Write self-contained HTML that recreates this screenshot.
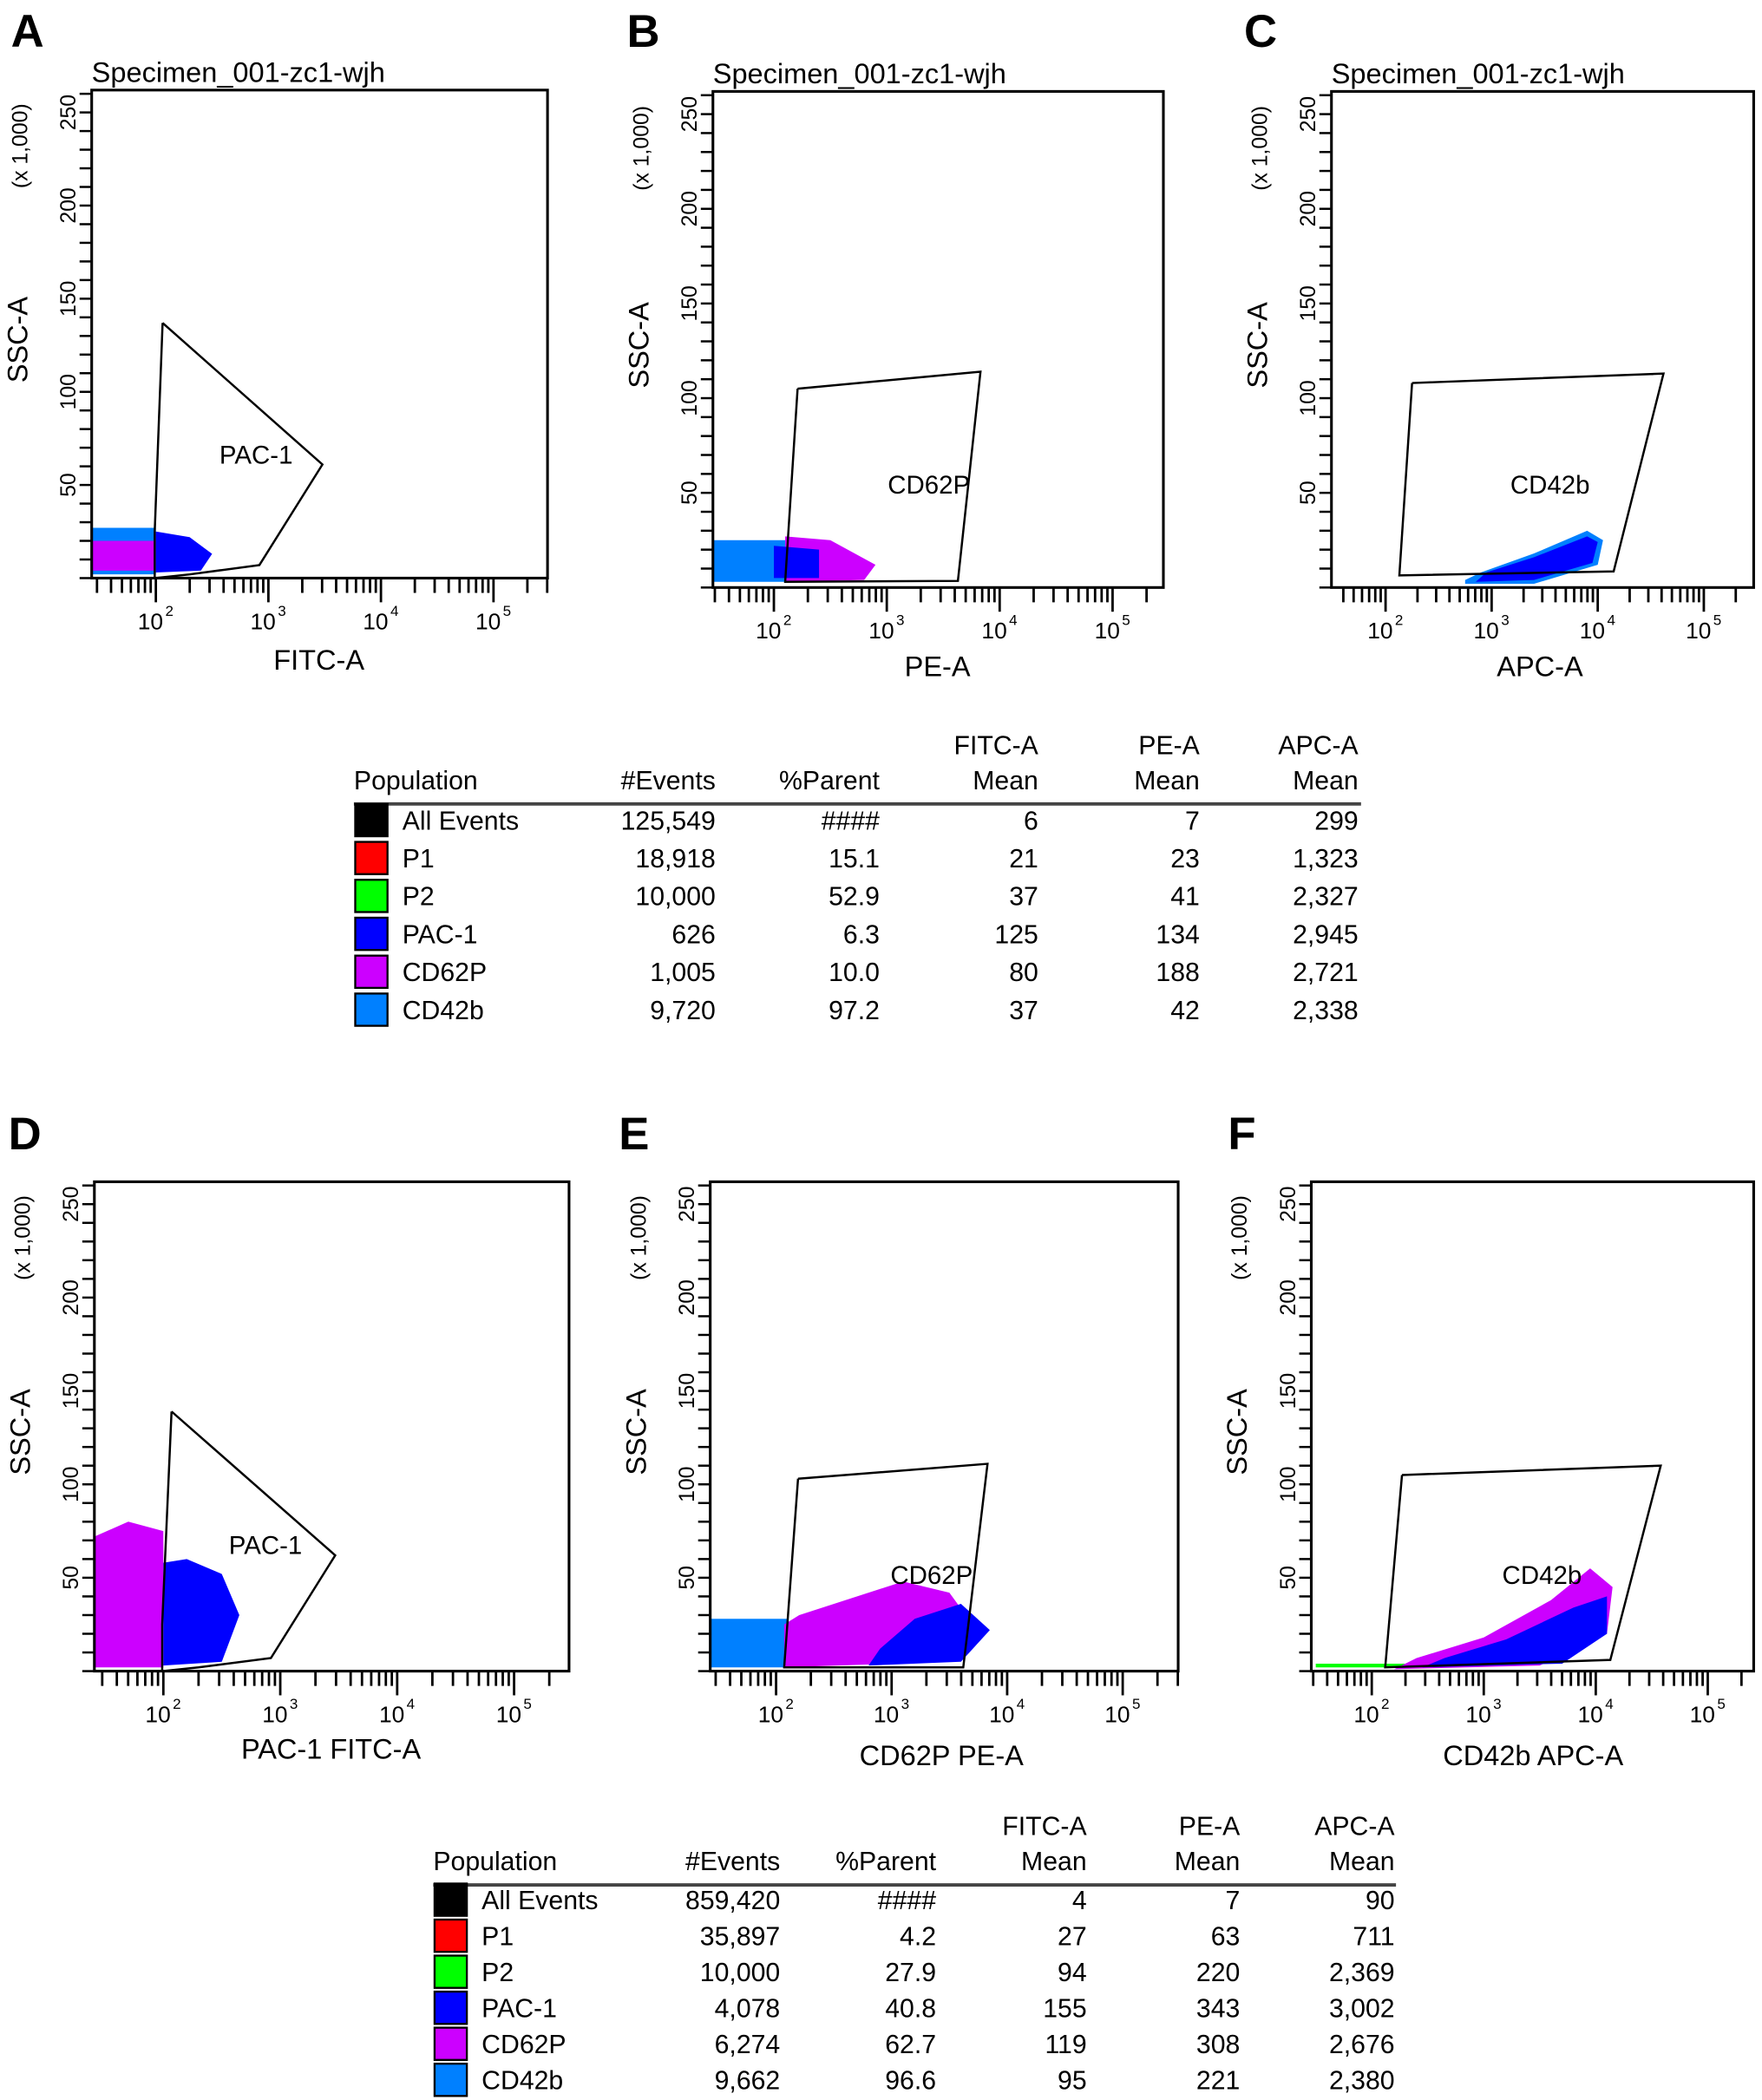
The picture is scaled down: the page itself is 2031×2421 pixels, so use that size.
<!DOCTYPE html>
<html><head><meta charset="utf-8"><style>
html,body{margin:0;padding:0;background:#fff;}
svg{display:block;}
text{font-family:"Liberation Sans",sans-serif;fill:#000;}
.tbl{font-family:"Liberation Sans Narrow","Liberation Sans",sans-serif;font-size:19.5px;}
</style></head><body>
<svg id="fig" width="2031" height="2421" viewBox="0 0 1310 1562" xmlns="http://www.w3.org/2000/svg"></svg>
<script>
// ---- data ----
const panelLetters = ["A","B","C","D","E","F"];
const panelTitles = ["Specimen_001-zc1-wjh","Specimen_001-zc1-wjh","Specimen_001-zc1-wjh","","",""];
const xAxisTitles = ["FITC-A","PE-A","APC-A","PAC-1 FITC-A","CD62P PE-A","CD42b APC-A"];
const gateNames = ["PAC-1","CD62P","CD42b","PAC-1","CD62P","CD42b"];
const xDecadeLabels = [2,3,4,5];
const yTickLabels = [50,100,150,200,250];
// gates in data coords [log10 intensity, SSC x1000]
const gateA = [[2.06,137],[3.48,61],[2.92,7],[2.3,2],[1.99,0],[1.99,25],[2.06,137]];
const gateB = [[2.21,105],[3.83,114],[3.63,3.5],[2.1,3],[2.21,105]];
const gateC = [[2.25,108],[4.62,113],[4.15,8.5],[2.13,6.4],[2.25,108]];
const gateD = [[2.07,139],[3.47,62],[2.92,7],[2.3,2],[1.99,0],[1.99,25],[2.07,139]];
const gateE = [[2.19,103],[3.83,111],[3.62,2],[2.07,2],[2.19,103]];
const gateF = [[2.27,105],[4.58,110],[4.13,6],[2.12,2],[2.27,105]];
// population clouds (outline in data coords)
const cloudsA = [["#0080ff",[[1.43,2],[2.0,2],[2.0,27],[1.43,27]]],["#cc00ff",[[1.43,4],[2.0,4],[2.0,20],[1.43,20]]],["#0000ff",[[2.0,3],[2.4,4],[2.5,13],[2.3,22],[2.0,25]]]];
const cloudsB = [["#0080ff",[[1.46,3],[2.1,3],[2.1,25],[1.46,25]]],["#cc00ff",[[2.1,3],[2.8,4],[2.9,12],[2.5,25],[2.1,27]]],["#0000ff",[[2.0,5],[2.4,5],[2.4,20],[2.0,22]]]];
const cloudsC = [["#0080ff",[[2.75,2],[3.4,2],[4.0,12],[4.05,25],[3.9,30],[3.4,18],[2.9,8],[2.75,4]]],["#0000ff",[[2.85,3],[3.4,4],[3.95,13],[4.0,24],[3.9,27],[3.4,16],[2.95,8]]]];
const cloudsD = [["#cc00ff",[[1.41,2],[2.0,2],[2.0,75],[1.7,80],[1.41,72]]],["#0000ff",[[2.0,3],[2.5,5],[2.65,30],[2.5,52],[2.2,60],[2.0,58]]]];
const cloudsE = [["#0080ff",[[1.43,2],[2.1,2],[2.1,28],[1.43,28]]],["#cc00ff",[[2.07,2],[3.5,5],[3.7,25],[3.5,42],[3.1,48],[2.6,38],[2.2,30],[2.07,25]]],["#0000ff",[[2.8,3],[3.6,5],[3.85,22],[3.6,36],[3.2,28],[2.9,12]]]];
const cloudsF = [["#00ff00",[[1.5,2],[2.3,2],[2.3,4],[1.5,4]]],["#cc00ff",[[2.2,1],[3.5,3],[4.1,20],[4.15,45],[3.95,55],[3.6,38],[3.0,18],[2.4,7]]],["#0000ff",[[2.45,2],[3.7,4],[4.1,20],[4.1,40],[3.8,34],[3.2,17],[2.65,7]]]];
// table data
const tblColumns = ["#Events","%Parent","FITC-A Mean","PE-A Mean","APC-A Mean"];
const populations = ["All Events","P1","P2","PAC-1","CD62P","CD42b"];
const popColors = ["#000000","#ff0000","#00ff00","#0000ff","#cc00ff","#0080ff"];
const events1 = ["125,549","18,918","10,000","626","1,005","9,720"];
const parent1 = ["####","15.1","52.9","6.3","10.0","97.2"];
const fitc1 = ["6","21","37","125","80","37"];
const pe1 = ["7","23","41","134","188","42"];
const apc1 = ["299","1,323","2,327","2,945","2,721","2,338"];
const events2 = ["859,420","35,897","10,000","4,078","6,274","9,662"];
const parent2 = ["####","4.2","27.9","40.8","62.7","96.6"];
const fitc2 = ["4","27","94","155","119","95"];
const pe2 = ["7","63","220","343","308","221"];
const apc2 = ["90","711","2,369","3,002","2,676","2,380"];

// ---- layout ----
const NS="http://www.w3.org/2000/svg";
const svg=document.getElementById('fig');
function el(tag,attrs,parent){const e=document.createElementNS(NS,tag);for(const k in attrs)e.setAttribute(k,attrs[k]);(parent||svg).appendChild(e);return e;}
function txt(s,attrs,parent){const e=el('text',attrs,parent);e.textContent=s;return e;}

const panels=[
 {L:68,T:67,R:407,B:430,x0:1.43,x1:5.48,gate:gateA,clouds:cloudsA,letter:[8,35],gl:[163,345],xt:[237,498]},
 {L:530,T:68,R:865,B:437,x0:1.46,x1:5.45,gate:gateB,clouds:cloudsB,letter:[466,35],gl:[660,367],xt:[697,503]},
 {L:990,T:68,R:1304,B:437,x0:1.49,x1:5.47,gate:gateC,clouds:cloudsC,letter:[925,35],gl:[1123,367],xt:[1145,503]},
 {L:70,T:879,R:423,B:1243,x0:1.41,x1:5.47,gate:gateD,clouds:cloudsD,letter:[6,855],gl:[170,1156],xt:[246,1308]},
 {L:528,T:879,R:876,B:1243,x0:1.43,x1:5.48,gate:gateE,clouds:cloudsE,letter:[460,855],gl:[662,1178],xt:[700,1313]},
 {L:975,T:879,R:1304,B:1243,x0:1.46,x1:5.41,gate:gateF,clouds:cloudsF,letter:[913,855],gl:[1117,1178],xt:[1140,1313]}
];
const Y1=262;
panels.forEach((p,i)=>{
 const g=el('g',{});
 
 
 const xs=v=>p.L+(v-p.x0)/(p.x1-p.x0)*(p.R-p.L);
 const ys=v=>p.B-v/Y1*(p.B-p.T);
 const lt=txt(panelLetters[i],{x:p.letter[0],y:p.letter[1],'font-size':34,'font-weight':'bold'},g);
 
 
 if(panelTitles[i]){const t=txt(panelTitles[i],{x:p.L,y:p.T-6,'font-size':21},g);
  }
 p.clouds.forEach(c=>{
  const poly=el('polygon',{points:c[1].map(q=>xs(q[0])+','+ys(q[1])).join(' '),fill:c[0]},g);
  
  
 });
 const box=el('rect',{x:p.L,y:p.T,width:p.R-p.L,height:p.B-p.T,fill:'none',stroke:'#000','stroke-width':2},g);
 
 
 const gp=el('polyline',{points:p.gate.map(q=>xs(q[0])+','+ys(q[1])).join(' '),fill:'none',stroke:'#000','stroke-width':1.6},g);
 
 
 const gl=txt(gateNames[i],{x:p.gl[0],y:p.gl[1],'font-size':19},g);
 
 
 for(let d=1;d<=5;d++)for(let m=1;m<=9;m++){const v=d+Math.log10(m);if(v<p.x0||v>p.x1)continue;
  const x=xs(v);const len=m===1?18:11;
  el('line',{x1:x,y1:p.B,x2:x,y2:p.B+len,stroke:'#000','stroke-width':1.8},g);}
 xDecadeLabels.forEach(d=>{const x=xs(d);
  const t=txt('10',{x:x-4,y:p.B+38,'font-size':17,'text-anchor':'middle'},g);
  
  txt(String(d),{x:x+7,y:p.B+28,'font-size':11},g);});
 const xt=txt(xAxisTitles[i],{x:p.xt[0],y:p.xt[1],'font-size':21,'text-anchor':'middle'},g);
 
 for(let v=0;v<=260;v+=10){const y=ys(v);el('line',{x1:p.L-9,y1:y,x2:p.L,y2:y,stroke:'#000','stroke-width':1.6},g);}
 yTickLabels.forEach(v=>{const y=ys(v);
  const t=txt(String(v),{x:0,y:0,'font-size':16,'text-anchor':'middle',transform:`translate(${p.L-12},${y}) rotate(-90)`},g);
  });
 const yt=txt('SSC-A',{x:0,y:0,'font-size':21,'text-anchor':'middle',transform:`translate(${p.L-48},${ys(128)}) rotate(-90)`},g);
 
 const yu=txt('(x 1,000)',{x:0,y:0,'font-size':16,'text-anchor':'middle',transform:`translate(${p.L-48},${ys(232)}) rotate(-90)`},g);
 
});

function table(x0,hy,rowY0,rowH,colsR,lineR,cols){
 const g=el('g',{class:'tbl'});
 
 
 txt('Population',{x:x0,y:hy,class:'tbl'},g);
 tblColumns.forEach((c,j)=>{const parts=c.split(' ');
  if(parts.length>1){txt(parts[0],{x:colsR[j],y:hy-26,'text-anchor':'end',class:'tbl'},g);txt(parts[1],{x:colsR[j],y:hy,'text-anchor':'end',class:'tbl'},g);}
  else txt(c,{x:colsR[j],y:hy,'text-anchor':'end',class:'tbl'},g);});
 el('line',{x1:x0,y1:hy+11,x2:lineR,y2:hy+11,stroke:'#444','stroke-width':2.5},g);
 populations.forEach((pn,r)=>{const y=rowY0+r*rowH;
  const sw=el('rect',{x:x0+1,y:y-19,width:24,height:24,fill:popColors[r],stroke:'#000','stroke-width':1.5},g);
  
  txt(pn,{x:x0+36,y:y,class:'tbl'},g);
  cols.forEach((arr,j)=>txt(arr[r],{x:colsR[j],y:y,'text-anchor':'end',class:'tbl'},g));});
}
table(263,587,617,28.2,[532,654,772,892,1010],1012,[events1,parent1,fitc1,pe1,apc1]);
table(322,1391,1420,26.8,[580,696,808,922,1037],1038,[events2,parent2,fitc2,pe2,apc2]);
</script>
</body></html>
